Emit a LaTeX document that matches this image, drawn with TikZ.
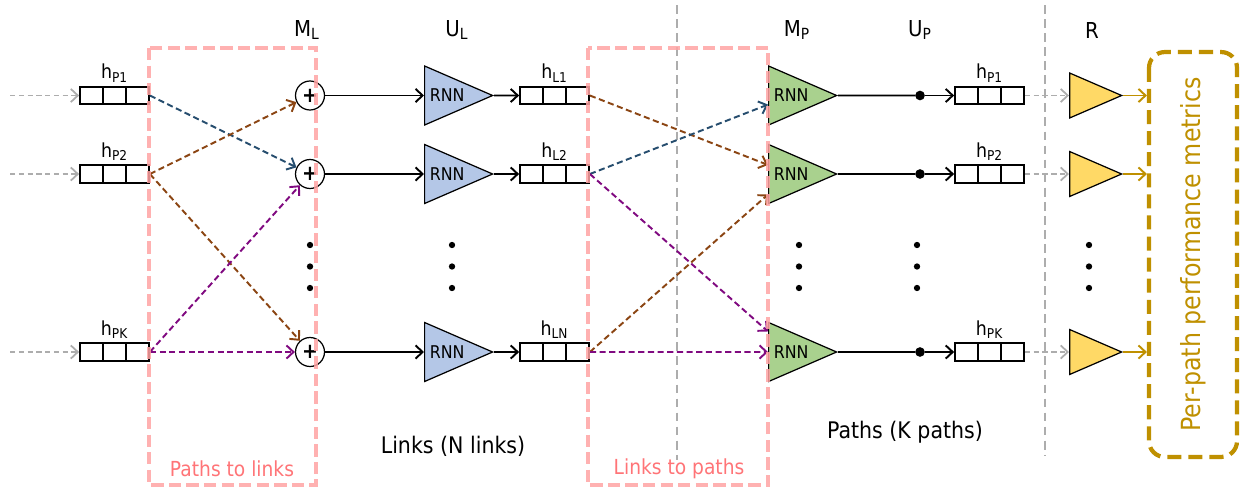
\documentclass[tikz,border=0pt]{standalone}
\usepackage{fontspec}
\setmainfont{DejaVu Sans}[FakeStretch=0.9]
\usetikzlibrary{positioning,shapes.geometric,arrows.meta,calc}

\definecolor{linkfill}{HTML}{B4C7E7}
\definecolor{pathfill}{HTML}{A9D18E}
\definecolor{readfill}{HTML}{FFD966}
\definecolor{gold}{HTML}{BF9000}
\definecolor{boxpink}{HTML}{FFA3A3}
\definecolor{txtpink}{HTML}{FF7477}
\definecolor{sepgray}{HTML}{ADADAD}
\definecolor{msgblue}{HTML}{264D6E}
\definecolor{msgbrown}{HTML}{8B4513}
\definecolor{msgpurple}{HTML}{800A80}

\begin{document}
\begin{tikzpicture}[x=0.02cm, y=-0.02cm, node distance=1pt, >={Straight Barb[length=4pt,width=7.5pt]}]
	\tikzset{buf/.style={draw, line width=1pt, minimum width=1.38cm, minimum height=0.35cm, inner sep=0pt,
			path picture={\foreach \f in {1,2} \draw[line width=1pt] ($(path picture bounding box.south west)!\f/3!(path picture bounding box.south east)$) -- ($(path picture bounding box.north west)!\f/3!(path picture bounding box.north east)$);}}};
	\tikzset{add/.style={circle, draw, line width=0.7pt, minimum size=0.58cm, inner sep=0pt, font=\bfseries\fontsize{12}{13}\selectfont}};
	\tikzset{rnn/.style={isosceles triangle, isosceles triangle stretches, draw, line width=0.7pt, anchor=west, inner sep=0pt, minimum width=1.18cm, minimum height=1.36cm, font=\fontsize{10}{11}\selectfont}};
	\tikzset{readout/.style={isosceles triangle, isosceles triangle stretches, draw, line width=0.7pt, anchor=west, inner sep=0pt, fill=readfill, minimum width=0.9cm, minimum height=1.04cm}};
	\tikzset{joint/.style={circle, fill=black, minimum size=5.5pt, inner sep=0pt}};
	\tikzset{lbl/.style={font=\fontsize{11}{12}\selectfont, inner sep=1pt}};
	\tikzset{hdr/.style={font=\fontsize{12.5}{14}\selectfont}};
	\tikzset{big/.style={font=\fontsize{13}{15}\selectfont}};
	\tikzset{grp/.style={draw=boxpink, line width=2pt, dash pattern=on 7pt off 3pt}};
	\tikzset{grptxt/.style={text=txtpink, font=\fontsize{11.8}{14}\selectfont}};
	\tikzset{sep/.style={draw=sepgray, line width=1pt, dash pattern=on 5pt off 3pt}};
	\tikzset{feed/.style={->, draw=sepgray, line width=1pt, dash pattern=on 3pt off 2pt}};
	\tikzset{flow/.style={->, line width=1.1pt}};
	\tikzset{msg/.style={->, line width=1.1pt, dash pattern=on 3.5pt off 2pt}};

	\useasboundingbox (0,0) rectangle (1246,490);

	% path states (input)
	\node[buf] (hp1) at (114.5,95.5) {};
	\node[buf] (hp2) at (114.5,174) {};
	\node[buf] (hpk) at (114.5,352) {};
	\node[lbl, above=of hp1] (lp1) {h\textsubscript{P1}};
	\node[lbl, above=of hp2] (lp2) {h\textsubscript{P2}};
	\node[lbl, above=of hpk] (lpk) {h\textsubscript{PK}};
	\coordinate (in1) at (10,95.5);
	\coordinate (in2) at (10,174);
	\coordinate (ink) at (10,352);

	% link side
	\node[add] (add1) at (310,95.5) {+};
	\node[add] (add2) at (310,174) {+};
	\node[add] (addn) at (310,352) {+};
	\node[rnn, fill=linkfill] (ul1) at (424,95.5) {RNN};
	\node[rnn, fill=linkfill] (ul2) at (424,174) {RNN};
	\node[rnn, fill=linkfill] (uln) at (424,352) {RNN};
	\node[buf] (hl1) at (554.5,95.5) {};
	\node[buf] (hl2) at (554.5,174) {};
	\node[buf] (hln) at (554.5,352) {};
	\node[lbl, above=of hl1] (ll1) {h\textsubscript{L1}};
	\node[lbl, above=of hl2] (ll2) {h\textsubscript{L2}};
	\node[lbl, above=of hln] (lln) {h\textsubscript{LN}};

	% path side
	\node[rnn, fill=pathfill] (up1) at (768,95.5) {RNN};
	\node[rnn, fill=pathfill] (up2) at (768,174) {RNN};
	\node[rnn, fill=pathfill] (upk) at (768,352) {RNN};
	\node[joint] (j1) at (920,95.5) {};
	\node[joint] (j2) at (920,174) {};
	\node[joint] (jk) at (920,352) {};
	\node[buf] (ho1) at (989.5,95.5) {};
	\node[buf] (ho2) at (989.5,174) {};
	\node[buf] (hok) at (989.5,352) {};
	\node[lbl, above=of ho1] (lo1) {h\textsubscript{P1}};
	\node[lbl, above=of ho2] (lo2) {h\textsubscript{P2}};
	\node[lbl, above=of hok] (lok) {h\textsubscript{PK}};

	% readout
	\node[readout] (r1) at (1069,95.5) {};
	\node[readout] (r2) at (1069,174) {};
	\node[readout] (rk) at (1069,352) {};
	\node[draw=gold, line width=2.4pt, dash pattern=on 8pt off 4pt, rounded corners=9pt, rotate=90,
		minimum width=8.1cm, minimum height=1.76cm, text=gold, font=\fontsize{15}{17}\selectfont] (met) at (1193,254.5) {Per-path performance metrics};

	% headers
	\node[hdr] (ml) at (307,30) {M\textsubscript{L}};
	\node[hdr] (ulh) at (457,30) {U\textsubscript{L}};
	\node[hdr] (mp) at (797,30) {M\textsubscript{P}};
	\node[hdr] (uph) at (920,30) {U\textsubscript{P}};
	\node[hdr] (rh) at (1092,30) {R};
	\node[big] (links) at (453,446) {Links (N links)};
	\node[big] (paths) at (905,432) {Paths (K paths)};

	\foreach \x in {310,452,799,917,1089}
		\foreach \y in {245,266.5,288}
			\fill (\x,\y) circle[radius=1.8pt];

	% separators
	\draw[sep] (677,5) -- (677,460);
	\draw[sep] (1045,5) -- (1045,455);

	% inputs
	\draw[feed] (in1) -- (hp1.west);
	\draw[feed] (in2) -- (hp2.west);
	\draw[feed] (ink) -- (hpk.west);

	% paths to links
	\draw[msg, msgblue] (hp1.east) -- (add2);
	\draw[msg, msgbrown] (hp2.east) -- (add1);
	\draw[msg, msgbrown] (hp2.east) -- (addn);
	\draw[msg, msgpurple] (hpk.east) -- (add2);
	\draw[msg, msgpurple] (hpk.east) -- (addn);

	\draw[flow] (add1) -- (ul1.west);
	\draw[flow] (add2) -- (ul2.west);
	\draw[flow] (addn) -- (uln.west);
	\draw[flow] (ul1.apex) -- (hl1.west);
	\draw[flow] (ul2.apex) -- (hl2.west);
	\draw[flow] (uln.apex) -- (hln.west);

	% links to paths
	\draw[msg, msgbrown] (hl1.east) -- (up2);
	\draw[msg, msgblue] (hl2.east) -- (up1);
	\draw[msg, msgpurple] (hl2.east) -- (upk);
	\draw[msg, msgbrown] (hln.east) -- (up2);
	\draw[msg, msgpurple] (hln.east) -- (upk);

	\draw[line width=1.1pt] (up1.apex) -- (j1);
	\draw[line width=1.1pt] (up2.apex) -- (j2);
	\draw[line width=1.1pt] (upk.apex) -- (jk);
	\draw[flow] (j1) -- (ho1.west);
	\draw[flow] (j2) -- (ho2.west);
	\draw[flow] (jk) -- (hok.west);

	\draw[feed] (ho1.east) -- (r1.west);
	\draw[feed] (ho2.east) -- (r2.west);
	\draw[feed] (hok.east) -- (rk.west);
	\draw[->, gold, line width=1.1pt] (r1.apex) -- (r1.apex -| met.north);
	\draw[->, gold, line width=1.1pt] (r2.apex) -- (r2.apex -| met.north);
	\draw[->, gold, line width=1.1pt] (rk.apex) -- (rk.apex -| met.north);

	% groups
	\draw[grp, opacity=0.85] (149,48) rectangle (316,485);
	\draw[grp, opacity=0.85] (588,48) rectangle (768,485);
	\node[grptxt] (p2l) at (232,469) {Paths to links};
	\node[grptxt] (l2p) at (679,469) {Links to paths};
\end{tikzpicture}
\end{document}
